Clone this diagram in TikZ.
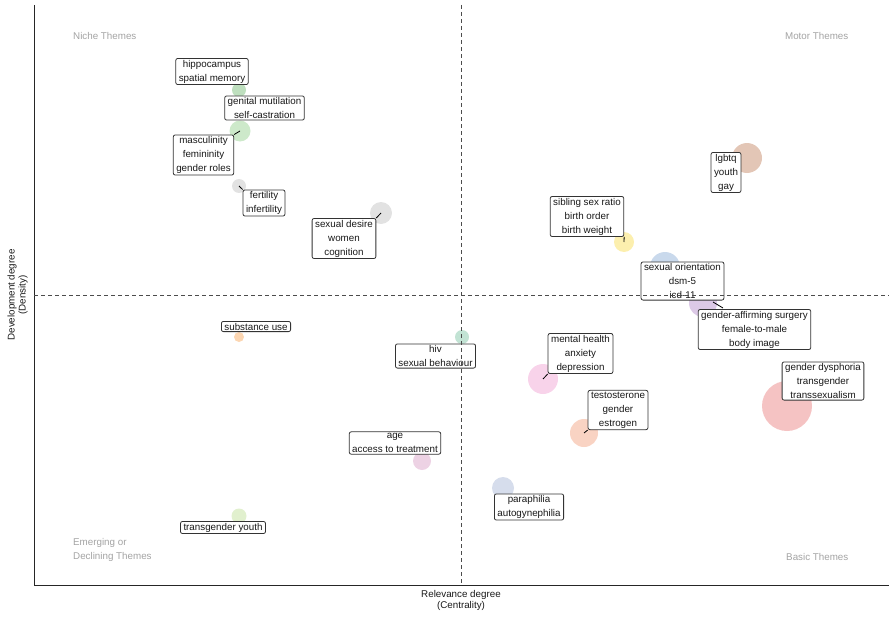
\documentclass[tikz,border=0pt]{standalone}
\usepackage{fontspec}
\setmainfont{Liberation Sans}
\definecolor{cgreenA}{HTML}{BEDFBE}
\definecolor{cgreenB}{HTML}{CDE9CA}
\definecolor{cgrey}{HTML}{E2E2E2}
\definecolor{cbrown}{HTML}{E3C6B6}
\definecolor{cyellow}{HTML}{FCEFAE}
\definecolor{cblue}{HTML}{C9D9EC}
\definecolor{cpurple}{HTML}{DCC9E6}
\definecolor{cteal}{HTML}{C2E3D4}
\definecolor{cpink}{HTML}{F8D3EA}
\definecolor{csalmon}{HTML}{F9D3C3}
\definecolor{cmauve}{HTML}{EDD2E4}
\definecolor{cslate}{HTML}{D6DDEC}
\definecolor{cred}{HTML}{F5C3C3}
\definecolor{corange}{HTML}{FCD6B2}
\definecolor{clime}{HTML}{E1F0CE}
\definecolor{quadgray}{HTML}{A3A3A3}
\begin{document}
\begin{tikzpicture}[x=1pt,y=-1pt,
  lab/.style={draw=black!80, fill=white, rounded corners=2pt, line width=0.8pt,
    inner xsep=3pt, inner ysep=1.5pt, align=center,
    font=\fontsize{9.8}{14}\selectfont, text=black!90},
  dot/.style={circle, inner sep=0pt, draw=none},
  quad/.style={font=\fontsize{9.8}{14}\selectfont, text=quadgray, inner sep=0pt},
  axtitle/.style={font=\fontsize{9.8}{11}\selectfont, align=center, text=black!90},
  conn/.style={draw=black, line width=0.8pt},
  guide/.style={draw=black!70, line width=0.8pt, dash pattern=on 4pt off 3pt}]
\useasboundingbox (0,0) rectangle (889,618);

% circles
\node[dot, fill=cgreenA, minimum size=14pt] (cHip) at (239,90) {};
\node[dot, fill=cgreenB, minimum size=21pt] (cMasc) at (240,131) {};
\node[dot, fill=cgrey, minimum size=14pt] (cFert) at (239,186) {};
\node[dot, fill=cgrey, minimum size=22pt] (cDes) at (381,213) {};
\node[dot, fill=cbrown, minimum size=30pt] (cLgb) at (747,158) {};
\node[dot, fill=cyellow, minimum size=20pt] (cSib) at (624,242) {};
\node[dot, fill=cblue, minimum size=30pt] (cSex) at (665,267) {};
\node[dot, fill=cpurple, minimum size=28pt] (cGA) at (703,303) {};
\node[dot, fill=cteal, minimum size=14pt] (cHiv) at (462,337) {};
\node[dot, fill=cpink, minimum size=30pt] (cMen) at (543,379) {};
\node[dot, fill=csalmon, minimum size=28pt] (cTes) at (584,433) {};
\node[dot, fill=cmauve, minimum size=18pt] (cAge) at (422,461) {};
\node[dot, fill=cslate, minimum size=22pt] (cPar) at (503,488) {};
\node[dot, fill=cred, minimum size=50pt] (cDys) at (787,406) {};
\node[dot, fill=corange, minimum size=10pt] (cSub) at (239,337) {};
\node[dot, fill=clime, minimum size=15pt] (cTy) at (239,516) {};

% labels
\node[lab] (bHip) at (212,71.5) {hippocampus\\spatial memory};
\node[lab] (bGen) at (264.5,108) {genital mutilation\\self-castration};
\node[lab] (bMasc) at (203.5,155) {masculinity\\femininity\\gender roles};
\node[lab] (bFert) at (264,203) {fertility\\infertility};
\node[lab] (bDes) at (344,238.5) {sexual desire\\women\\cognition};
\node[lab] (bLgb) at (726,172.5) {lgbtq\\youth\\gay};
\node[lab] (bSib) at (587,216.5) {sibling sex ratio\\birth order\\birth weight};
\node[lab] (bSex) at (682.5,281) {sexual orientation\\dsm-5\\icd-11};
\node[lab] (bGA) at (754.5,329.5) {gender-affirming surgery\\female-to-male\\body image};
\node[lab] (bHiv) at (435.5,356) {hiv\\sexual behaviour};
\node[lab] (bMen) at (580.5,353.5) {mental health\\anxiety\\depression};
\node[lab] (bTes) at (618,410) {testosterone\\gender\\estrogen};
\node[lab] (bAge) at (395,443) {age\\access to treatment};
\node[lab] (bPar) at (529,507) {paraphilia\\autogynephilia};
\node[lab] (bDys) at (823,381) {gender dysphoria\\transgender\\transsexualism};
\node[lab] (bSub) at (256,326.5) {substance use};
\node[lab] (bTy) at (223,527.5) {transgender youth};

% connectors
\draw[conn] (cMasc.center) -- (bMasc.north east);
\draw[conn] (cFert.center) -- (bFert.north west);
\draw[conn] (cDes.center) -- (bDes.north east);
\draw[conn] (cSib.center) -- (bSib.south east);
\coordinate (gaStart) at (713,302);
\coordinate (gaEnd) at (723,308);
\draw[conn] (gaStart) -- (gaEnd);
\draw[conn] (cMen.center) -- (bMen.south west);
\draw[conn] (cTes.center) -- (bTes.south west);

% axes
\coordinate (oTop) at (34,5);
\coordinate (oOrig) at (34,585.5);
\coordinate (oRight) at (889,585.5);
\draw[line width=1pt, black!85] (oTop) -- (oOrig) -- (oRight);

% guides
\coordinate (vTop) at (461,5);
\coordinate (vBot) at (461,585);
\coordinate (hLeft) at (34,295);
\coordinate (hRight) at (889,295);
\draw[guide] (vTop) -- (vBot);
\draw[guide] (hLeft) -- (hRight);

% quadrant names
\node[quad, anchor=west] (qNiche) at (73,36) {Niche Themes};
\node[quad, anchor=east] (qMotor) at (848.5,36) {Motor Themes};
\node[quad, anchor=west, align=left] (qEmer) at (73,550) {Emerging or\\Declining Themes};
\node[quad, anchor=east] (qBasic) at (848.5,557) {Basic Themes};

% axis titles
\node[axtitle] (xTitle) at (461,600.5) {Relevance degree\\(Centrality)};
\node[axtitle, rotate=90] (yTitle) at (17.5,295) {Development degree\\(Density)};
\end{tikzpicture}
\end{document}
